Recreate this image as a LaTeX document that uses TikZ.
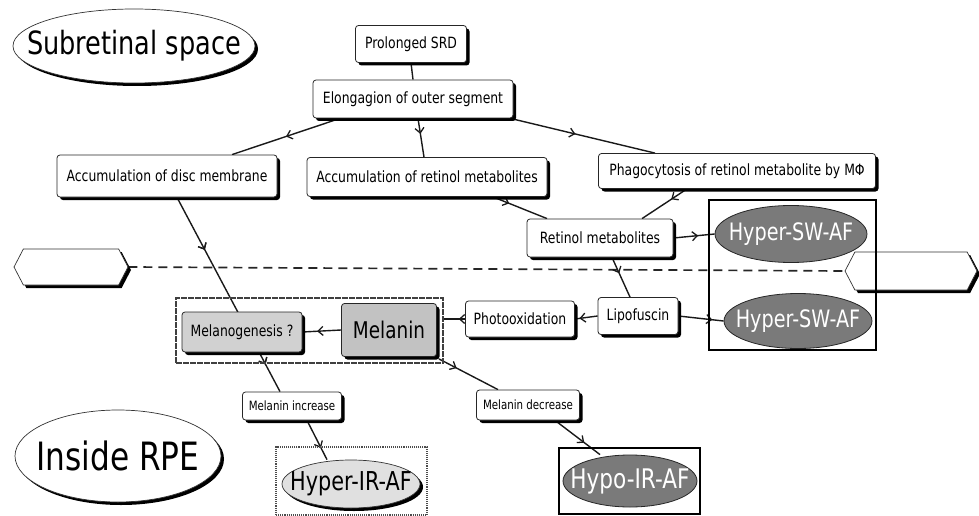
\documentclass[tikz,border=0pt]{standalone}
\usepackage{fontspec}
\setmainfont{DejaVu Sans}[FakeStretch=0.8]
\usetikzlibrary{shapes.geometric,shapes.symbols,shadows,arrows.meta,decorations.markings,calc,backgrounds}
\newcommand\fsz[1]{\fontsize{#1}{#1}\selectfont}
\newcommand\zw[1]{\makebox[0pt]{#1}}
\tikzset{
  every node/.style={inner sep=0pt, align=center},
  shad/.style={drop shadow={shadow xshift=3pt,shadow yshift=-3pt,fill=black,opacity=1}},
  box/.style={draw=black!85, line width=0.8pt, rounded corners=3pt, fill=white, shad, font=\fsz{15.5}},
  smallbox/.style={box, font=\fsz{12.8}},
  graybox/.style={box, fill=black!18},
  region/.style={ellipse, draw=black!80, line width=0.7pt, fill=white, shad},
  darkell/.style={ellipse, draw=black!85, line width=0.8pt, fill=black!52, text=white, font=\fsz{24}},
  lightell/.style={ellipse, draw=black!80, line width=0.7pt, fill=black!12, shad, font=\fsz{26}},
  hexa/.style={signal, signal to=west and east, signal pointer angle=125, draw=black!80, line width=0.7pt, fill=white, shad},
  conn/.style={draw=black!90, line width=1.4pt},
  arrowat/.style={postaction={decorate}, decoration={markings, mark=at position #1 with {\arrow{Straight Barb[length=5pt,width=9pt,line width=1.3pt]}}}},
}
\begin{document}
\begin{tikzpicture}[x=1pt,y=-1pt]
\useasboundingbox (0,0) rectangle (979,516);

% region labels
\node[region, minimum width=242, minimum height=74, font=\fsz{32}] (sub) at (134,46) {\zw{Subretinal space}};
\node[region, minimum width=206, minimum height=92, font=\fsz{39}] (rpe) at (118,456) {\zw{Inside RPE}};

% hexagons and boundary
\node[hexa, minimum width=114, minimum height=36] (lhex) at (71,267) {};
\node[hexa, minimum width=132, minimum height=38] (rhex) at (911,271) {};

% group frames
\node[draw=black!75, line width=1.8pt, dash pattern=on 6pt off 1pt, minimum width=267, minimum height=65] (grp) at (309.5,330.5) {};
\node[draw=black, line width=1.6pt, minimum width=167, minimum height=150] (swbox) at (792.5,275) {};
\node[draw=black!70, line width=1.1pt, densely dotted, minimum width=151, minimum height=68] (irbox) at (351.5,481) {};
\node[draw=black, line width=2pt, minimum width=141, minimum height=66] (hypobox) at (629.5,481) {};

% boxes
\node[box, minimum width=111, minimum height=37] (srd) at (411,44) {Prolonged SRD};
\node[box, minimum width=200, minimum height=38] (elong) at (413,99) {Elongagion of outer segment};
\node[box, minimum width=220, minimum height=42] (disc) at (167,176) {Accumulation of disc membrane};
\node[box, minimum width=240, minimum height=39] (accret) at (427,177) {Accumulation of retinol metabolites};
\node[box, minimum width=277, minimum height=35] (phago) at (737,171) {Phagocytosis of retinol metabolite by MΦ};
\node[box, minimum width=146, minimum height=38] (retmet) at (600,238) {Retinol metabolites};
\node[box, minimum width=80, minimum height=37] (lipo) at (638,316) {Lipofuscin};
\node[box, minimum width=109, minimum height=36] (photo) at (520,319) {Photooxidation};
\node[graybox, fill=black!24, minimum width=95, minimum height=53, font=\fsz{23}] (melanin) at (389,330) {Melanin};
\node[graybox, minimum width=120, minimum height=40] (melgen) at (242,332) {Melanogenesis ?};
\node[smallbox, minimum width=99, minimum height=28] (inc) at (292,406) {Melanin increase};
\node[smallbox, minimum width=103, minimum height=30] (dec) at (528,405) {Melanin decrease};

% AF ellipses
\node[darkell, minimum width=152, minimum height=57] (sw1) at (791,234) {\zw{Hyper-SW-AF}};
\node[darkell, minimum width=148, minimum height=55] (sw2) at (798,321) {\zw{Hyper-SW-AF}};
\node[lightell, minimum width=138, minimum height=48] (ir) at (351,484) {\zw{Hyper-IR-AF}};
\node[darkell, minimum width=134, minimum height=52, font=\fsz{27}] (hypo) at (630,481) {\zw{Hypo-IR-AF}};

\begin{pgfonlayer}{background}
\draw[black!85, line width=1.7pt, dash pattern=on 9pt off 6pt] (lhex.east) -- (rhex.west);
\draw[conn] (srd.south) -- (elong.north);
\draw[conn, arrowat=0.5] ($(elong.south)+(-73,0)$) -- ($(disc.north)+(65,0)$);
\draw[conn, arrowat=0.4] ($(elong.south)+(5,0)$) -- ($(accret.north)+(-3,0)$);
\draw[conn, arrowat=0.45] ($(elong.south east)+(-3,0)$) -- ($(phago.north)+(-82,0)$);
\draw[conn, arrowat=0.3] ($(accret.south)+(66,0)$) -- ($(retmet.north)+(-53,0)$);
\draw[conn, arrowat=0.35] ($(phago.south)+(-50,0)$) -- ($(retmet.north)+(42,0)$);
\draw[conn, arrowat=0.6] (retmet.east) -- (sw1.west);
\draw[conn, arrowat=0.4] ($(retmet.south)+(12,0)$) -- ($(lipo.north)+(-8,0)$);
\draw[conn, arrowat=0.75] (lipo.east) -- (sw2.west);
\draw[conn, arrowat=0.8] (lipo.west) -- (photo.east);
\draw[conn, arrowat=0.3] (photo.west) -- (photo.west -| grp.east);
\draw[conn, arrowat=0.62] (melanin.west) -- (melgen.east);
\draw[conn, arrowat=0.27, arrowat=0.86] ($(disc.south)+(10,0)$) -- ($(inc.north)+(-12,0)$);
\draw[conn, arrowat=0.7] ($(inc.south)+(15,0)$) -- ($(ir.north)+(-24,0)$);
\draw[conn, arrowat=0.3] ($(melanin.south east)+(2,2)$) -- ($(dec.north)+(-30,0)$);
\draw[conn, arrowat=0.65] ($(dec.south)+(27,0)$) -- ($(hypo.north)+(-30,0)$);
\end{pgfonlayer}
\end{tikzpicture}
\end{document}
